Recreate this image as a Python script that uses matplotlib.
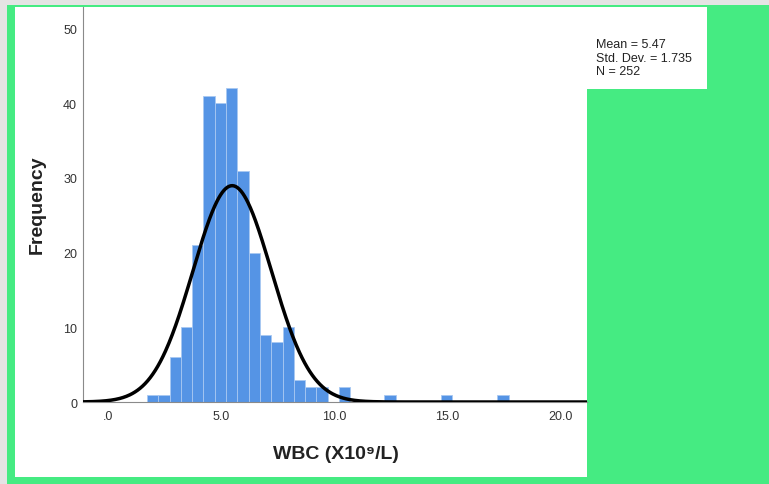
import numpy as np
import matplotlib
matplotlib.use("Agg")
import matplotlib.pyplot as plt
from matplotlib.patches import Rectangle

# histogram of WBC counts (bins of 0.5 starting at 1.7)
bin_edges = np.round(np.arange(1.7, 17.71, 0.5), 2)
counts = [1, 1, 6, 10, 21, 41, 40, 42, 31, 20, 9, 8, 10, 3, 2, 2,
          0, 2, 0, 0, 0, 1, 0, 0, 0, 0, 1, 0, 0, 0, 0, 1]

mean_wbc = 5.47
sd_wbc = 1.735
n_obs = 252

x_ticks = [0, 5, 10, 15, 20]
x_ticklabels = [".0", "5.0", "10.0", "15.0", "20.0"]
y_ticks = [0, 10, 20, 30, 40, 50]

W, H = 769, 485
plt.rcParams["font.family"] = ["Liberation Sans", "DejaVu Sans"]

fig = plt.figure(figsize=(W / 100, H / 100), dpi=100)
fig.patch.set_facecolor("#e4e4e4")


def px_rect(x0, y0, x1, y1, color):
    # pixel box (top-left origin) -> figure fraction rectangle
    fig.patches.append(Rectangle((x0 / W, 1 - y1 / H), (x1 - x0) / W, (y1 - y0) / H,
                                 transform=fig.transFigure, facecolor=color,
                                 edgecolor="none", zorder=-10))


px_rect(7, 6, W + 40, H + 20, "#45eb82")
px_rect(15, 8, 587, 478, "white")
px_rect(587, 8, 707, 90, "white")

ax = fig.add_axes([83 / W, 1 - 403 / H, (587 - 83) / W, (403 - 8) / H])
ax.set_facecolor("white")

widths = np.diff(bin_edges)
ax.bar(bin_edges[:-1], counts, width=widths, align="edge",
       color="#5594e5", edgecolor="#a8c8f2", linewidth=0.6, zorder=2)

xs = np.linspace(-1.2, 21.3, 600)
bw = 0.5
ys = n_obs * bw / (sd_wbc * np.sqrt(2 * np.pi)) * np.exp(-0.5 * ((xs - mean_wbc) / sd_wbc) ** 2)
ax.plot(xs, ys, color="black", linewidth=2.5, zorder=3, solid_capstyle="butt")

ax.set_xlim(-1.13, 21.17)
ax.set_ylim(0, 52.9)

ax.set_xticks(x_ticks)
ax.set_xticklabels(x_ticklabels)
ax.set_yticks(y_ticks)
ax.tick_params(axis="x", length=0, pad=5.5, labelsize=9, labelcolor="#333333")
ax.tick_params(axis="y", length=0, pad=4.3, labelsize=9, labelcolor="#333333")

for side in ["top", "right"]:
    ax.spines[side].set_visible(False)
for side in ["left", "bottom"]:
    ax.spines[side].set_color("#8a8a8a")
    ax.spines[side].set_linewidth(0.8)

ax.set_xlabel("WBC (X10\u2079/L)", fontsize=14, fontweight="bold", color="#222222")
ax.xaxis.set_label_coords(0.502, -0.108)
ax.set_ylabel("Frequency", fontsize=14, fontweight="bold", color="#222222")
ax.yaxis.set_label_coords(-0.073, 0.501)

stats_lines = ["Mean = %.2f" % mean_wbc, "Std. Dev. = %.3f" % sd_wbc, "N = %d" % n_obs]
for line, ypix in zip(stats_lines, [43.5, 57, 70.5]):
    fig.text(596 / W, 1 - (ypix + 1.5) / H, line, fontsize=9, color="#222222",
             ha="left", va="center")

fig.savefig("out.png", dpi=100, facecolor=fig.get_facecolor())
